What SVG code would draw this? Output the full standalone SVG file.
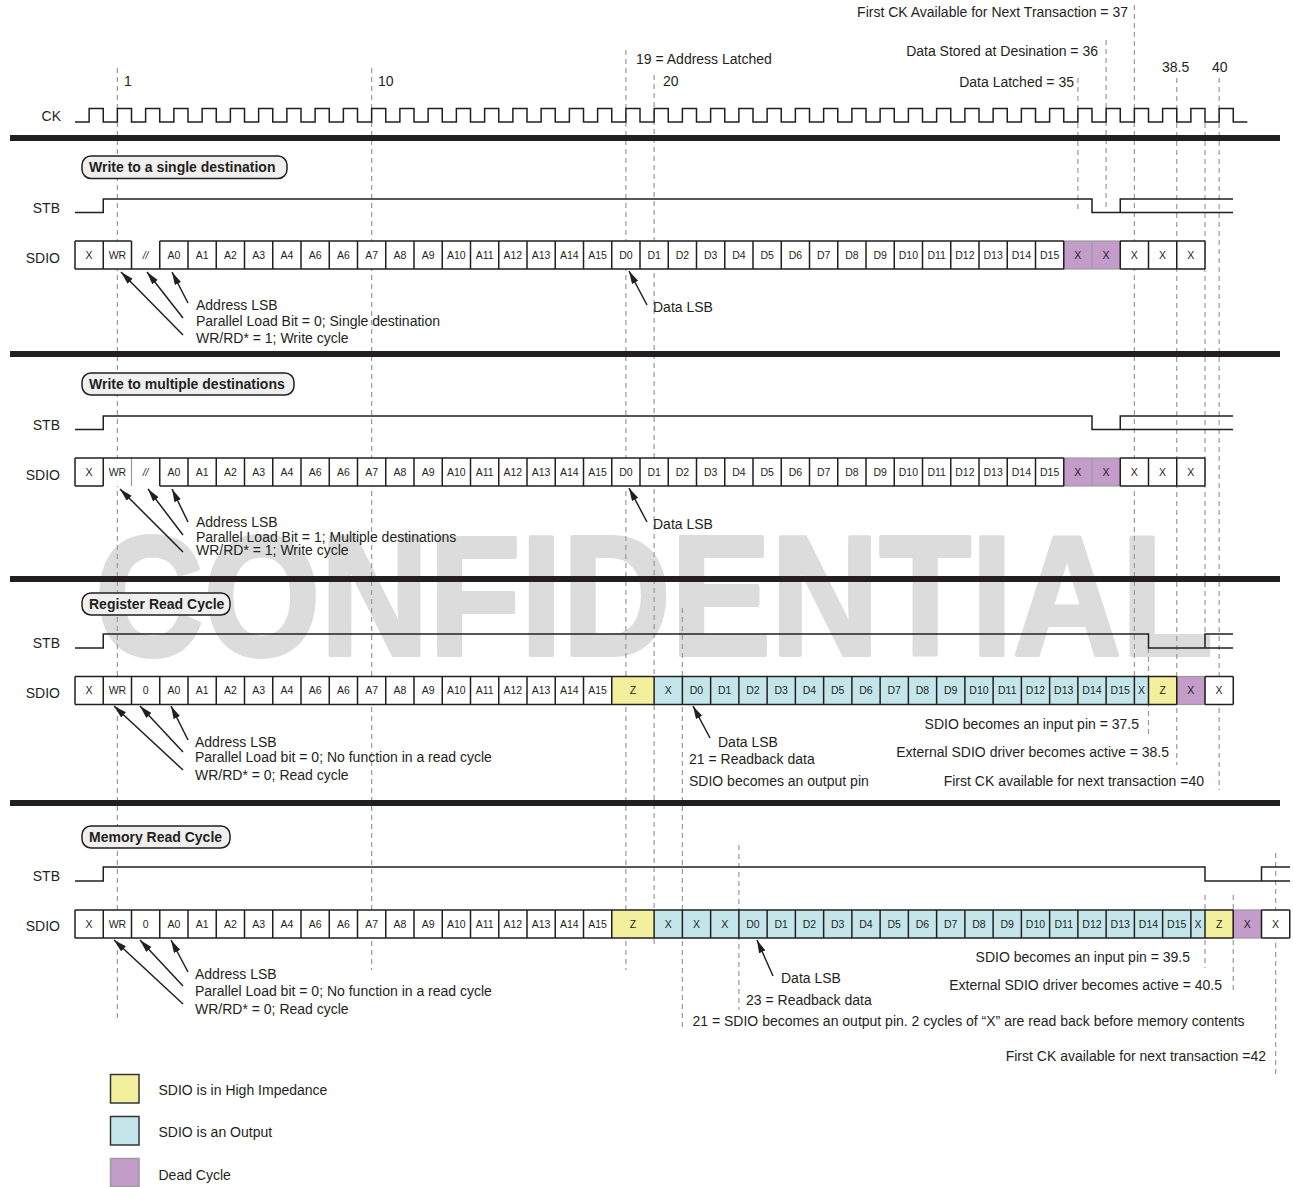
<svg xmlns="http://www.w3.org/2000/svg" width="1293" height="1187" viewBox="0 0 1293 1187">
<style>
text{font-family:"Liberation Sans",Arial,sans-serif;fill:#231f20}
.t{font-size:14px}
.r{font-size:14px;text-anchor:end}
.c{font-size:10.5px;text-anchor:middle}
.lb{font-size:14px;font-weight:bold}
.wm{font-size:170px;font-weight:bold;fill:#dcdcdc;stroke:#dcdcdc;stroke-width:4;stroke-linejoin:round}
.dash{stroke:#9a9a9a;stroke-width:1.2;stroke-dasharray:5 4;fill:none}
.ln{stroke:#231f20;stroke-width:1.5;fill:none}
.gry{stroke:#9a9a9a;stroke-width:1.2;fill:none}
.sep{fill:#231f20}
.box{fill:#efefef;stroke:#231f20;stroke-width:1.5}
.wh{fill:#ffffff}
.yel{fill:#f2f09c}
.cya{fill:#c4e6ea}
.pur{fill:#c39cc9;stroke:#9a9a9a;stroke-width:1.2}
.arr{stroke:#231f20;stroke-width:1.5;fill:none;marker-end:url(#ah)}
</style>
<defs>
<marker id="ah" markerUnits="userSpaceOnUse" markerWidth="14" markerHeight="8" refX="13" refY="3.5" orient="auto">
<path d="M0,0 L13,3.5 L0,7 z" fill="#231f20"/>
</marker>
</defs>
<rect width="1293" height="1187" fill="#ffffff"/>
<text class="wm" x="95" y="655" textLength="1118" lengthAdjust="spacingAndGlyphs">CONFIDENTIAL</text>

<g id="guides">
<path class="dash" d="M117.375,68V1022 M371.625,68V970 M625.875,50V970 M654.125,75V948 M682.375,608V1030 M738.875,845V1010 M1077.875,78V212 M1106.125,40V208 M1134.375,5V677 M1148.5,648V737 M1176.75,78V765 M1205,123V640 M1219.125,78V790 M1205,895V968 M1233.25,895V992 M1275.625,853V1075"/>
</g>

<g id="clock">
<text class="r" x="61" y="121">CK</text>
<path class="ln" d="M75,122
H89.125V108.5H103.25V122 H117.375V108.5H131.5V122 H145.625V108.5H159.75V122 H173.875V108.5H188V122 H202.125V108.5H216.25V122
H230.375V108.5H244.5V122 H258.625V108.5H272.75V122 H286.875V108.5H301V122 H315.125V108.5H329.25V122 H343.375V108.5H357.5V122
H371.625V108.5H385.75V122 H399.875V108.5H414V122 H428.125V108.5H442.25V122 H456.375V108.5H470.5V122 H484.625V108.5H498.75V122
H512.875V108.5H527V122 H541.125V108.5H555.25V122 H569.375V108.5H583.5V122 H597.625V108.5H611.75V122 H625.875V108.5H640V122
H654.125V108.5H668.25V122 H682.375V108.5H696.5V122 H710.625V108.5H724.75V122 H738.875V108.5H753V122 H767.125V108.5H781.25V122
H795.375V108.5H809.5V122 H823.625V108.5H837.75V122 H851.875V108.5H866V122 H880.125V108.5H894.25V122 H908.375V108.5H922.5V122
H936.625V108.5H950.75V122 H964.875V108.5H979V122 H993.125V108.5H1007.25V122 H1021.375V108.5H1035.5V122 H1049.625V108.5H1063.75V122
H1077.875V108.5H1092V122 H1106.125V108.5H1120.25V122 H1134.375V108.5H1148.5V122 H1162.625V108.5H1176.75V122 H1190.875V108.5H1205V122
H1219.125V108.5H1233.25V122 H1247.375"/>
<text class="t" x="124" y="86">1</text>
<text class="t" x="378" y="86">10</text>
<text class="t" x="663" y="86">20</text>
<text class="t" x="636" y="64">19 = Address Latched</text>
<text class="r" x="1128" y="17">First CK Available for Next Transaction = 37</text>
<text class="r" x="1098" y="56">Data Stored at Desination = 36</text>
<text class="r" x="1074" y="87">Data Latched = 35</text>
<text class="t" x="1162" y="72">38.5</text>
<text class="t" x="1212" y="72">40</text>
</g>

<g id="separators">
<rect class="sep" x="10" y="135" width="1270" height="6"/>
<rect class="sep" x="10" y="351" width="1270" height="6"/>
<rect class="sep" x="10" y="576" width="1270" height="6"/>
<rect class="sep" x="10" y="800" width="1270" height="6"/>
</g>

<!-- Section 1 -->
<g id="sec1-title">
<rect class="box" x="82" y="156" width="205" height="22.5" rx="9"/>
<text class="lb" x="89" y="172">Write to a single destination</text>
</g>
<g id="sec1-stb">
<text class="r" x="60" y="213">STB</text>
<path class="ln" d="M75,212.5H103.25V199H1092V212.5H1120.25V199H1233 M1120.25,212.5H1233"/>
</g>
<g id="sec1-sdio">
<text class="r" x="60" y="263">SDIO</text>
<rect class="wh" x="75" y="241" width="1130" height="28"/>
<rect class="pur" x="1063.75" y="241" width="56.5" height="28"/>
<path class="gry" d="M1092,241v28"/>
<path class="ln" d="M75,241H131.5M159.75,241H1063.75M1120.25,241H1205M75,269H1063.75M1120.25,269H1205M75,241v28M103.25,241v28M131.5,241v28M159.75,241v28M188,241v28M216.25,241v28M244.5,241v28M272.75,241v28M301,241v28M329.25,241v28M357.5,241v28M385.75,241v28M414,241v28M442.25,241v28M470.5,241v28M498.75,241v28M527,241v28M555.25,241v28M583.5,241v28M611.75,241v28M640,241v28M668.25,241v28M696.5,241v28M724.75,241v28M753,241v28M781.25,241v28M809.5,241v28M837.75,241v28M866,241v28M894.25,241v28M922.5,241v28M950.75,241v28M979,241v28M1007.25,241v28M1035.5,241v28M1063.75,241v28M1120.25,241v28M1148.5,241v28M1176.75,241v28M1205,241v28"/>
<text class="c" x="89.125" y="258.8">X</text><text class="c" x="117.375" y="258.8">WR</text><text class="c" x="145.625" y="258.8" font-style="italic">//</text><text class="c" x="173.875" y="258.8">A0</text><text class="c" x="202.125" y="258.8">A1</text><text class="c" x="230.375" y="258.8">A2</text><text class="c" x="258.625" y="258.8">A3</text><text class="c" x="286.875" y="258.8">A4</text><text class="c" x="315.125" y="258.8">A6</text><text class="c" x="343.375" y="258.8">A6</text><text class="c" x="371.625" y="258.8">A7</text><text class="c" x="399.875" y="258.8">A8</text><text class="c" x="428.125" y="258.8">A9</text><text class="c" x="456.375" y="258.8">A10</text><text class="c" x="484.625" y="258.8">A11</text><text class="c" x="512.875" y="258.8">A12</text><text class="c" x="541.125" y="258.8">A13</text><text class="c" x="569.375" y="258.8">A14</text><text class="c" x="597.625" y="258.8">A15</text>
<text class="c" x="625.875" y="258.8">D0</text><text class="c" x="654.125" y="258.8">D1</text><text class="c" x="682.375" y="258.8">D2</text><text class="c" x="710.625" y="258.8">D3</text><text class="c" x="738.875" y="258.8">D4</text><text class="c" x="767.125" y="258.8">D5</text><text class="c" x="795.375" y="258.8">D6</text><text class="c" x="823.625" y="258.8">D7</text><text class="c" x="851.875" y="258.8">D8</text><text class="c" x="880.125" y="258.8">D9</text><text class="c" x="908.375" y="258.8">D10</text><text class="c" x="936.625" y="258.8">D11</text><text class="c" x="964.875" y="258.8">D12</text><text class="c" x="993.125" y="258.8">D13</text><text class="c" x="1021.375" y="258.8">D14</text><text class="c" x="1049.625" y="258.8">D15</text>
<text class="c" x="1077.875" y="258.8">X</text><text class="c" x="1106.125" y="258.8">X</text><text class="c" x="1134.375" y="258.8">X</text><text class="c" x="1162.625" y="258.8">X</text><text class="c" x="1190.875" y="258.8">X</text>
</g>
<g id="sec1-notes">
<text class="t" x="196" y="310">Address LSB</text>
<text class="t" x="196" y="326">Parallel Load Bit = 0; Single destination</text>
<text class="t" x="196" y="343">WR/RD* = 1; Write cycle</text>
<text class="t" x="653" y="312">Data LSB</text>
</g>

<!-- Section 2 -->
<g id="sec2-title">
<rect class="box" x="82" y="373" width="212" height="22" rx="9"/>
<text class="lb" x="89" y="389">Write to multiple destinations</text>
</g>
<g id="sec2-stb">
<text class="r" x="60" y="430">STB</text>
<path class="ln" d="M75,429.5H103.25V416H1092V429.5H1120.25V416H1233 M1120.25,429.5H1233"/>
</g>
<g id="sec2-sdio">
<text class="r" x="60" y="480">SDIO</text>
<rect class="wh" x="75" y="458" width="1130" height="28"/>
<rect class="pur" x="1063.75" y="458" width="56.5" height="28"/>
<path class="gry" d="M1092,458v28M131.5,458v28"/>
<path class="ln" d="M75,458H1063.75M1120.25,458H1205M75,486H103.25M159.75,486H1063.75M1120.25,486H1205M75,458v28M103.25,458v28M159.75,458v28M188,458v28M216.25,458v28M244.5,458v28M272.75,458v28M301,458v28M329.25,458v28M357.5,458v28M385.75,458v28M414,458v28M442.25,458v28M470.5,458v28M498.75,458v28M527,458v28M555.25,458v28M583.5,458v28M611.75,458v28M640,458v28M668.25,458v28M696.5,458v28M724.75,458v28M753,458v28M781.25,458v28M809.5,458v28M837.75,458v28M866,458v28M894.25,458v28M922.5,458v28M950.75,458v28M979,458v28M1007.25,458v28M1035.5,458v28M1063.75,458v28M1120.25,458v28M1148.5,458v28M1176.75,458v28M1205,458v28"/>
<text class="c" x="89.125" y="475.8">X</text><text class="c" x="117.375" y="475.8">WR</text><text class="c" x="145.625" y="475.8" font-style="italic">//</text><text class="c" x="173.875" y="475.8">A0</text><text class="c" x="202.125" y="475.8">A1</text><text class="c" x="230.375" y="475.8">A2</text><text class="c" x="258.625" y="475.8">A3</text><text class="c" x="286.875" y="475.8">A4</text><text class="c" x="315.125" y="475.8">A6</text><text class="c" x="343.375" y="475.8">A6</text><text class="c" x="371.625" y="475.8">A7</text><text class="c" x="399.875" y="475.8">A8</text><text class="c" x="428.125" y="475.8">A9</text><text class="c" x="456.375" y="475.8">A10</text><text class="c" x="484.625" y="475.8">A11</text><text class="c" x="512.875" y="475.8">A12</text><text class="c" x="541.125" y="475.8">A13</text><text class="c" x="569.375" y="475.8">A14</text><text class="c" x="597.625" y="475.8">A15</text>
<text class="c" x="625.875" y="475.8">D0</text><text class="c" x="654.125" y="475.8">D1</text><text class="c" x="682.375" y="475.8">D2</text><text class="c" x="710.625" y="475.8">D3</text><text class="c" x="738.875" y="475.8">D4</text><text class="c" x="767.125" y="475.8">D5</text><text class="c" x="795.375" y="475.8">D6</text><text class="c" x="823.625" y="475.8">D7</text><text class="c" x="851.875" y="475.8">D8</text><text class="c" x="880.125" y="475.8">D9</text><text class="c" x="908.375" y="475.8">D10</text><text class="c" x="936.625" y="475.8">D11</text><text class="c" x="964.875" y="475.8">D12</text><text class="c" x="993.125" y="475.8">D13</text><text class="c" x="1021.375" y="475.8">D14</text><text class="c" x="1049.625" y="475.8">D15</text>
<text class="c" x="1077.875" y="475.8">X</text><text class="c" x="1106.125" y="475.8">X</text><text class="c" x="1134.375" y="475.8">X</text><text class="c" x="1162.625" y="475.8">X</text><text class="c" x="1190.875" y="475.8">X</text>
</g>
<g id="sec2-notes">
<text class="t" x="196" y="527">Address LSB</text>
<text class="t" x="196" y="542">Parallel Load Bit = 1; Multiple destinations</text>
<text class="t" x="196" y="555">WR/RD* = 1; Write cycle</text>
<text class="t" x="653" y="529">Data LSB</text>
</g>

<!-- Section 3 -->
<g id="sec3-title">
<rect class="box" x="82" y="593" width="148" height="22" rx="9"/>
<text class="lb" x="89" y="609">Register Read Cycle</text>
</g>
<g id="sec3-stb">
<text class="r" x="60" y="648">STB</text>
<path class="ln" d="M75,648H103.25V634H1148.5V648H1205V634H1233 M1205,648H1233"/>
</g>
<g id="sec3-sdio">
<text class="r" x="60" y="698">SDIO</text>
<rect class="wh" x="75" y="676.5" width="1158.25" height="28"/>
<rect class="yel" x="611.75" y="676.5" width="42.375" height="28"/>
<rect class="cya" x="654.125" y="676.5" width="494.375" height="28"/>
<rect class="yel" x="1148.5" y="676.5" width="28.25" height="28"/>
<rect class="pur" x="1176.75" y="676.5" width="28.25" height="28"/>
<path class="ln" d="M75,676.5H1176.75M1205,676.5H1233.25M75,704.5H1176.75M1205,704.5H1233.25M75,676.5v28M103.25,676.5v28M131.5,676.5v28M159.75,676.5v28M188,676.5v28M216.25,676.5v28M244.5,676.5v28M272.75,676.5v28M301,676.5v28M329.25,676.5v28M357.5,676.5v28M385.75,676.5v28M414,676.5v28M442.25,676.5v28M470.5,676.5v28M498.75,676.5v28M527,676.5v28M555.25,676.5v28M583.5,676.5v28M611.75,676.5v28M654.125,676.5v28M682.375,676.5v28M710.625,676.5v28M738.875,676.5v28M767.125,676.5v28M795.375,676.5v28M823.625,676.5v28M851.875,676.5v28M880.125,676.5v28M908.375,676.5v28M936.625,676.5v28M964.875,676.5v28M993.125,676.5v28M1021.375,676.5v28M1049.625,676.5v28M1077.875,676.5v28M1106.125,676.5v28M1134.375,676.5v28M1148.5,676.5v28M1176.75,676.5v28M1205,676.5v28M1233.25,676.5v28"/>
<text class="c" x="89.125" y="694.3">X</text><text class="c" x="117.375" y="694.3">WR</text><text class="c" x="145.625" y="694.3">0</text><text class="c" x="173.875" y="694.3">A0</text><text class="c" x="202.125" y="694.3">A1</text><text class="c" x="230.375" y="694.3">A2</text><text class="c" x="258.625" y="694.3">A3</text><text class="c" x="286.875" y="694.3">A4</text><text class="c" x="315.125" y="694.3">A6</text><text class="c" x="343.375" y="694.3">A6</text><text class="c" x="371.625" y="694.3">A7</text><text class="c" x="399.875" y="694.3">A8</text><text class="c" x="428.125" y="694.3">A9</text><text class="c" x="456.375" y="694.3">A10</text><text class="c" x="484.625" y="694.3">A11</text><text class="c" x="512.875" y="694.3">A12</text><text class="c" x="541.125" y="694.3">A13</text><text class="c" x="569.375" y="694.3">A14</text><text class="c" x="597.625" y="694.3">A15</text>
<text class="c" x="632.94" y="694.3">Z</text><text class="c" x="668.25" y="694.3">X</text>
<text class="c" x="696.5" y="694.3">D0</text><text class="c" x="724.75" y="694.3">D1</text><text class="c" x="753" y="694.3">D2</text><text class="c" x="781.25" y="694.3">D3</text><text class="c" x="809.5" y="694.3">D4</text><text class="c" x="837.75" y="694.3">D5</text><text class="c" x="866" y="694.3">D6</text><text class="c" x="894.25" y="694.3">D7</text><text class="c" x="922.5" y="694.3">D8</text><text class="c" x="950.75" y="694.3">D9</text><text class="c" x="979" y="694.3">D10</text><text class="c" x="1007.25" y="694.3">D11</text><text class="c" x="1035.5" y="694.3">D12</text><text class="c" x="1063.75" y="694.3">D13</text><text class="c" x="1092" y="694.3">D14</text><text class="c" x="1120.25" y="694.3">D15</text>
<text class="c" x="1141.44" y="694.3">X</text><text class="c" x="1162.625" y="694.3">Z</text><text class="c" x="1190.875" y="694.3">X</text><text class="c" x="1219.125" y="694.3">X</text>
</g>
<g id="sec3-notes">
<text class="t" x="195" y="747">Address LSB</text>
<text class="t" x="195" y="762">Parallel Load bit = 0; No function in a read cycle</text>
<text class="t" x="195" y="780">WR/RD* = 0; Read cycle</text>
<text class="t" x="718" y="747">Data LSB</text>
<text class="t" x="689" y="764">21 = Readback data</text>
<text class="t" x="689" y="786">SDIO becomes an output pin</text>
<text class="r" x="1139" y="729">SDIO becomes an input pin = 37.5</text>
<text class="r" x="1169" y="757">External SDIO driver becomes active = 38.5</text>
<text class="r" x="1204" y="786">First CK available for next transaction =40</text>
</g>

<!-- Section 4 -->
<g id="sec4-title">
<rect class="box" x="82" y="826" width="148" height="22" rx="9"/>
<text class="lb" x="89" y="842">Memory Read Cycle</text>
</g>
<g id="sec4-stb">
<text class="r" x="60" y="881">STB</text>
<path class="ln" d="M75,881H103.25V867H1205V881H1261.5V867H1290 M1261.5,881H1290"/>
</g>
<g id="sec4-sdio">
<text class="r" x="60" y="931">SDIO</text>
<rect class="wh" x="75" y="910" width="1214.75" height="28"/>
<rect class="yel" x="611.75" y="910" width="42.375" height="28"/>
<rect class="cya" x="654.125" y="910" width="550.875" height="28"/>
<rect class="yel" x="1205" y="910" width="28.25" height="28"/>
<rect class="pur" x="1233.25" y="910" width="28.25" height="28"/>
<path class="ln" d="M75,910H1233.25M1261.5,910H1289.75M75,938H1233.25M1261.5,938H1289.75M75,910v28M103.25,910v28M131.5,910v28M159.75,910v28M188,910v28M216.25,910v28M244.5,910v28M272.75,910v28M301,910v28M329.25,910v28M357.5,910v28M385.75,910v28M414,910v28M442.25,910v28M470.5,910v28M498.75,910v28M527,910v28M555.25,910v28M583.5,910v28M611.75,910v28M654.125,910v28M682.375,910v28M710.625,910v28M738.875,910v28M767.125,910v28M795.375,910v28M823.625,910v28M851.875,910v28M880.125,910v28M908.375,910v28M936.625,910v28M964.875,910v28M993.125,910v28M1021.375,910v28M1049.625,910v28M1077.875,910v28M1106.125,910v28M1134.375,910v28M1162.625,910v28M1190.875,910v28M1205,910v28M1233.25,910v28M1261.5,910v28M1289.75,910v28"/>
<text class="c" x="89.125" y="927.8">X</text><text class="c" x="117.375" y="927.8">WR</text><text class="c" x="145.625" y="927.8">0</text><text class="c" x="173.875" y="927.8">A0</text><text class="c" x="202.125" y="927.8">A1</text><text class="c" x="230.375" y="927.8">A2</text><text class="c" x="258.625" y="927.8">A3</text><text class="c" x="286.875" y="927.8">A4</text><text class="c" x="315.125" y="927.8">A6</text><text class="c" x="343.375" y="927.8">A6</text><text class="c" x="371.625" y="927.8">A7</text><text class="c" x="399.875" y="927.8">A8</text><text class="c" x="428.125" y="927.8">A9</text><text class="c" x="456.375" y="927.8">A10</text><text class="c" x="484.625" y="927.8">A11</text><text class="c" x="512.875" y="927.8">A12</text><text class="c" x="541.125" y="927.8">A13</text><text class="c" x="569.375" y="927.8">A14</text><text class="c" x="597.625" y="927.8">A15</text>
<text class="c" x="632.94" y="927.8">Z</text><text class="c" x="668.25" y="927.8">X</text><text class="c" x="696.5" y="927.8">X</text><text class="c" x="724.75" y="927.8">X</text>
<text class="c" x="753" y="927.8">D0</text><text class="c" x="781.25" y="927.8">D1</text><text class="c" x="809.5" y="927.8">D2</text><text class="c" x="837.75" y="927.8">D3</text><text class="c" x="866" y="927.8">D4</text><text class="c" x="894.25" y="927.8">D5</text><text class="c" x="922.5" y="927.8">D6</text><text class="c" x="950.75" y="927.8">D7</text><text class="c" x="979" y="927.8">D8</text><text class="c" x="1007.25" y="927.8">D9</text><text class="c" x="1035.5" y="927.8">D10</text><text class="c" x="1063.75" y="927.8">D11</text><text class="c" x="1092" y="927.8">D12</text><text class="c" x="1120.25" y="927.8">D13</text><text class="c" x="1148.5" y="927.8">D14</text><text class="c" x="1176.75" y="927.8">D15</text>
<text class="c" x="1197.94" y="927.8">X</text><text class="c" x="1219.125" y="927.8">Z</text><text class="c" x="1247.375" y="927.8">X</text><text class="c" x="1275.625" y="927.8">X</text>
</g>
<g id="sec4-notes">
<text class="t" x="195" y="979">Address LSB</text>
<text class="t" x="195" y="996">Parallel Load bit = 0; No function in a read cycle</text>
<text class="t" x="195" y="1014">WR/RD* = 0; Read cycle</text>
<text class="t" x="781" y="983">Data LSB</text>
<text class="t" x="746" y="1005">23 = Readback data</text>
<text class="t" x="692.5" y="1026">21 = SDIO becomes an output pin. 2 cycles of “X” are read back before memory contents</text>
<text class="r" x="1190" y="962">SDIO becomes an input pin = 39.5</text>
<text class="r" x="1222" y="990">External SDIO driver becomes active = 40.5</text>
<text class="r" x="1266" y="1061">First CK available for next transaction =42</text>
</g>

<g id="connectors">
<path class="arr" d="M188,303L172,272"/>
<path class="arr" d="M183,318L147,272"/>
<path class="arr" d="M183,335L121,272"/>
<path class="arr" d="M647,305L629,271"/>
<path class="arr" d="M188,522L172,489"/>
<path class="arr" d="M183,535L148,489"/>
<path class="arr" d="M183,552L120,489"/>
<path class="arr" d="M647,522L629,488"/>
<path class="arr" d="M188,740L171,706"/>
<path class="arr" d="M183,752L140,706"/>
<path class="arr" d="M183,770L114,706"/>
<path class="arr" d="M710,738L693,706"/>
<path class="arr" d="M188,972L171,940"/>
<path class="arr" d="M183,986L140,940"/>
<path class="arr" d="M183,1004L114,940"/>
<path class="arr" d="M773,976L757,940"/>
</g>

<g id="legend">
<rect x="110.5" y="1074.5" width="28.5" height="28.5" fill="#f2f09c" stroke="#333" stroke-width="1.5"/>
<text class="t" x="158.5" y="1095">SDIO is in High Impedance</text>
<rect x="110.5" y="1116.5" width="28.5" height="28.5" fill="#c4e6ea" stroke="#333" stroke-width="1.5"/>
<text class="t" x="158.5" y="1137">SDIO is an Output</text>
<rect x="110.5" y="1158.5" width="28.5" height="28" fill="#c39cc9" stroke="#9a9a9a" stroke-width="1.5"/>
<text class="t" x="158.5" y="1180">Dead Cycle</text>
</g>
</svg>
